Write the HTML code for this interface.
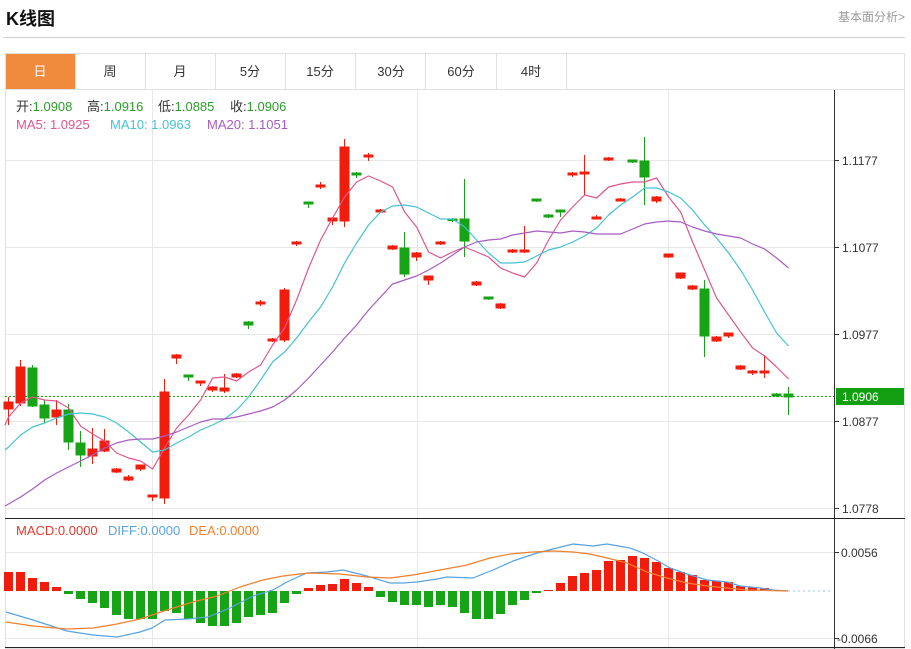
<!DOCTYPE html>
<html><head><meta charset="utf-8"><style>
html,body{margin:0;padding:0;background:#fff;}
svg{display:block;}
text{font-family:"Liberation Sans","Noto Sans CJK SC",sans-serif;}
</style></head><body>
<svg width="911" height="649" viewBox="0 0 911 649" xmlns="http://www.w3.org/2000/svg">
<rect width="911" height="649" fill="#fff"/>
<text x="6" y="25" font-size="18" font-weight="bold" fill="#111">K线图</text>
<text x="905" y="21" font-size="12" fill="#999" text-anchor="end">基本面分析&gt;</text>
<line x1="3" y1="37.5" x2="905" y2="37.5" stroke="#cfcfcf"/>
<rect x="5.5" y="53.5" width="899" height="595" fill="none" stroke="#e0e0e0"/>
<line x1="5" y1="89.5" x2="905" y2="89.5" stroke="#e0e0e0"/>
<rect x="6" y="54" width="69" height="35" fill="#f08b3e"/>
<g stroke="#e0e0e0">
<line x1="75.5" y1="54" x2="75.5" y2="89"/><line x1="145.5" y1="54" x2="145.5" y2="89"/>
<line x1="215.5" y1="54" x2="215.5" y2="89"/><line x1="285.5" y1="54" x2="285.5" y2="89"/>
<line x1="355.5" y1="54" x2="355.5" y2="89"/><line x1="425.5" y1="54" x2="425.5" y2="89"/>
<line x1="496.5" y1="54" x2="496.5" y2="89"/><line x1="566.5" y1="54" x2="566.5" y2="89"/>
</g>
<g font-size="13" text-anchor="middle" fill="#333">
<text x="40" y="76" fill="#fff">日</text><text x="110" y="76">周</text><text x="180" y="76">月</text>
<text x="250" y="76">5分</text><text x="320" y="76">15分</text><text x="391" y="76">30分</text>
<text x="461" y="76">60分</text><text x="531" y="76">4时</text>
</g>
<g stroke="#e8e8e8">
<line x1="6" y1="160.5" x2="834" y2="160.5"/><line x1="6" y1="247.5" x2="834" y2="247.5"/>
<line x1="6" y1="334.5" x2="834" y2="334.5"/><line x1="6" y1="421.5" x2="834" y2="421.5"/>
<line x1="6" y1="508.5" x2="834" y2="508.5"/>
<line x1="6" y1="552.5" x2="834" y2="552.5"/><line x1="6" y1="638.5" x2="834" y2="638.5"/>
<line x1="152.5" y1="90" x2="152.5" y2="647"/><line x1="417.5" y1="90" x2="417.5" y2="647"/>
<line x1="668.5" y1="90" x2="668.5" y2="647"/>
</g>
<line x1="834.5" y1="90" x2="834.5" y2="649" stroke="#333"/>
<line x1="5" y1="518.5" x2="905" y2="518.5" stroke="#222"/>
<line x1="5" y1="647.5" x2="905" y2="647.5" stroke="#222"/>
<g stroke="#333">
<line x1="834" y1="160.5" x2="839" y2="160.5"/><line x1="834" y1="247.5" x2="839" y2="247.5"/>
<line x1="834" y1="334.5" x2="839" y2="334.5"/><line x1="834" y1="421.5" x2="839" y2="421.5"/>
<line x1="834" y1="508.5" x2="839" y2="508.5"/><line x1="834" y1="552.5" x2="839" y2="552.5"/>
<line x1="834" y1="638.5" x2="839" y2="638.5"/>
</g>
<g font-size="12" fill="#333">
<text x="842" y="165">1.1177</text><text x="842" y="252">1.1077</text><text x="842" y="339">1.0977</text>
<text x="842" y="426">1.0877</text><text x="842" y="513">1.0778</text>
<text x="841" y="557">0.0056</text><text x="837" y="643">-0.0066</text>
</g>
<line x1="5" y1="396.5" x2="834" y2="396.5" stroke="#1a9e1a" stroke-dasharray="2,2"/>
<rect x="836" y="388" width="68" height="17" fill="#12a012"/>
<text x="842" y="401" font-size="12" fill="#fff">1.0906</text>
<g font-size="13">
<text x="16" y="111" fill="#333">开:<tspan fill="#2a9d2a">1.0908</tspan><tspan x="87">高:</tspan><tspan fill="#2a9d2a">1.0916</tspan><tspan x="158">低:</tspan><tspan fill="#2a9d2a">1.0885</tspan><tspan x="230">收:</tspan><tspan fill="#2a9d2a">1.0906</tspan></text>
<text x="16" y="129" fill="#e0558f">MA5: 1.0925</text>
<text x="110" y="129" fill="#45c3d2">MA10: 1.0963</text>
<text x="207" y="129" fill="#a75cc2">MA20: 1.1051</text>
<text x="16" y="535" fill="#e53a30">MACD:0.0000</text>
<text x="108" y="535" fill="#5aa2e0">DIFF:0.0000</text>
<text x="189" y="535" fill="#ef8030">DEA:0.0000</text>
</g>
<g stroke="#f21c0c" fill="#f21c0c" shape-rendering="crispEdges">
<line x1="8.5" y1="397" x2="8.5" y2="425"/><rect x="4" y="402" width="9" height="7"/>
<line x1="20.5" y1="360" x2="20.5" y2="406"/><rect x="16" y="367" width="9" height="36"/>
<line x1="56.5" y1="400" x2="56.5" y2="425"/><rect x="52" y="410" width="9" height="7"/>
<line x1="92.5" y1="428" x2="92.5" y2="464"/><rect x="88" y="449" width="9" height="7"/>
<line x1="104.5" y1="429" x2="104.5" y2="452"/><rect x="100" y="441" width="9" height="10"/>
<line x1="116.5" y1="468" x2="116.5" y2="473"/><rect x="112" y="469" width="9" height="3"/>
<line x1="128.5" y1="475" x2="128.5" y2="481"/><rect x="124" y="477" width="9" height="3"/>
<line x1="140.5" y1="465" x2="140.5" y2="471"/><rect x="136" y="465" width="9" height="4"/>
<line x1="152.5" y1="495" x2="152.5" y2="501"/><rect x="148" y="495" width="9" height="2"/>
<line x1="164.5" y1="379" x2="164.5" y2="504"/><rect x="160" y="392" width="9" height="106"/>
<line x1="176.5" y1="354" x2="176.5" y2="364"/><rect x="172" y="355" width="9" height="3"/>
<line x1="200.5" y1="381" x2="200.5" y2="386"/><rect x="196" y="381" width="9" height="2"/>
<line x1="212.5" y1="386" x2="212.5" y2="392"/><rect x="208" y="387" width="9" height="3"/>
<line x1="224.5" y1="374" x2="224.5" y2="393"/><rect x="220" y="388" width="9" height="3"/>
<line x1="236.5" y1="373" x2="236.5" y2="378"/><rect x="232" y="374" width="9" height="3"/>
<line x1="260.5" y1="300" x2="260.5" y2="306"/><rect x="256" y="302" width="9" height="2"/>
<line x1="272.5" y1="338" x2="272.5" y2="342"/><rect x="268" y="339" width="9" height="2"/>
<line x1="284.5" y1="288" x2="284.5" y2="342"/><rect x="280" y="290" width="9" height="50"/>
<line x1="296.5" y1="241" x2="296.5" y2="246"/><rect x="292" y="242" width="9" height="2"/>
<line x1="320.5" y1="182" x2="320.5" y2="189"/><rect x="316" y="185" width="9" height="2"/>
<line x1="332.5" y1="217" x2="332.5" y2="225"/><rect x="328" y="218" width="9" height="3"/>
<line x1="344.5" y1="139" x2="344.5" y2="227"/><rect x="340" y="147" width="9" height="74"/>
<line x1="368.5" y1="153" x2="368.5" y2="161"/><rect x="364" y="155" width="9" height="2"/>
<line x1="380.5" y1="209" x2="380.5" y2="213"/><rect x="376" y="210" width="9" height="2"/>
<line x1="392.5" y1="245" x2="392.5" y2="250"/><rect x="388" y="246" width="9" height="3"/>
<line x1="416.5" y1="252" x2="416.5" y2="261"/><rect x="412" y="253" width="9" height="4"/>
<line x1="428.5" y1="276" x2="428.5" y2="285"/><rect x="424" y="276" width="9" height="4"/>
<line x1="440.5" y1="241" x2="440.5" y2="245"/><rect x="436" y="242" width="9" height="2"/>
<line x1="476.5" y1="281" x2="476.5" y2="286"/><rect x="472" y="282" width="9" height="3"/>
<line x1="500.5" y1="303" x2="500.5" y2="309"/><rect x="496" y="304" width="9" height="4"/>
<line x1="512.5" y1="249" x2="512.5" y2="253"/><rect x="508" y="250" width="9" height="2"/>
<line x1="524.5" y1="226" x2="524.5" y2="253"/><rect x="520" y="250" width="9" height="2"/>
<line x1="572.5" y1="172" x2="572.5" y2="177"/><rect x="568" y="173" width="9" height="2"/>
<line x1="584.5" y1="155" x2="584.5" y2="195"/><rect x="580" y="172" width="9" height="2"/>
<line x1="596.5" y1="215" x2="596.5" y2="219"/><rect x="592" y="217" width="9" height="2"/>
<line x1="608.5" y1="157" x2="608.5" y2="161"/><rect x="604" y="158" width="9" height="2"/>
<line x1="620.5" y1="198" x2="620.5" y2="201"/><rect x="616" y="199" width="9" height="2"/>
<line x1="656.5" y1="196" x2="656.5" y2="203"/><rect x="652" y="197" width="9" height="4"/>
<line x1="668.5" y1="254" x2="668.5" y2="258"/><rect x="664" y="254" width="9" height="3"/>
<line x1="680.5" y1="273" x2="680.5" y2="279"/><rect x="676" y="273" width="9" height="5"/>
<line x1="692.5" y1="285" x2="692.5" y2="290"/><rect x="688" y="286" width="9" height="3"/>
<line x1="716.5" y1="336" x2="716.5" y2="342"/><rect x="712" y="337" width="9" height="4"/>
<line x1="728.5" y1="333" x2="728.5" y2="338"/><rect x="724" y="333" width="9" height="3"/>
<line x1="740.5" y1="365" x2="740.5" y2="370"/><rect x="736" y="366" width="9" height="3"/>
<line x1="752.5" y1="370" x2="752.5" y2="375"/><rect x="748" y="371" width="9" height="2"/>
<line x1="764.5" y1="355" x2="764.5" y2="378"/><rect x="760" y="371" width="9" height="2"/>
</g>
<g stroke="#16a316" fill="#16a316" shape-rendering="crispEdges">
<line x1="32.5" y1="365" x2="32.5" y2="407"/><rect x="28" y="368" width="9" height="38"/>
<line x1="44.5" y1="400" x2="44.5" y2="423"/><rect x="40" y="405" width="9" height="13"/>
<line x1="68.5" y1="404" x2="68.5" y2="450"/><rect x="64" y="410" width="9" height="32"/>
<line x1="80.5" y1="431" x2="80.5" y2="467"/><rect x="76" y="443" width="9" height="12"/>
<line x1="188.5" y1="375" x2="188.5" y2="381"/><rect x="184" y="375" width="9" height="2"/>
<line x1="248.5" y1="321" x2="248.5" y2="329"/><rect x="244" y="322" width="9" height="3"/>
<line x1="308.5" y1="202" x2="308.5" y2="208"/><rect x="304" y="202" width="9" height="2"/>
<line x1="356.5" y1="172" x2="356.5" y2="178"/><rect x="352" y="173" width="9" height="2"/>
<line x1="404.5" y1="232" x2="404.5" y2="277"/><rect x="400" y="248" width="9" height="26"/>
<line x1="452.5" y1="218" x2="452.5" y2="222"/><rect x="448" y="219" width="9" height="1.5"/>
<line x1="464.5" y1="179" x2="464.5" y2="257"/><rect x="460" y="219" width="9" height="22"/>
<line x1="488.5" y1="297" x2="488.5" y2="300"/><rect x="484" y="297" width="9" height="2"/>
<line x1="536.5" y1="199" x2="536.5" y2="202"/><rect x="532" y="199" width="9" height="2"/>
<line x1="548.5" y1="214" x2="548.5" y2="218"/><rect x="544" y="215" width="9" height="2"/>
<line x1="560.5" y1="210" x2="560.5" y2="217"/><rect x="556" y="210" width="9" height="2"/>
<line x1="632.5" y1="160" x2="632.5" y2="163"/><rect x="628" y="160" width="9" height="2"/>
<line x1="644.5" y1="137" x2="644.5" y2="205"/><rect x="640" y="161" width="9" height="16"/>
<line x1="704.5" y1="280" x2="704.5" y2="357"/><rect x="700" y="289" width="9" height="47"/>
<line x1="776.5" y1="393" x2="776.5" y2="397"/><rect x="772" y="394" width="9" height="2"/>
<line x1="788.5" y1="387" x2="788.5" y2="415"/><rect x="784" y="394" width="9" height="3"/>
</g>
<g fill="none" stroke-width="1.2" stroke-linejoin="round">
<polyline stroke="#e0558f" points="5,425 8.6,417 20.6,403 32.6,397 44.6,400 56.6,401 68.6,408 80.6,426 92.6,434 104.6,441 116.6,453 128.6,458 140.6,461 152.6,469 164.6,448 176.6,428 188.6,415 200.6,400 212.6,378 224.6,377 236.6,381 248.6,372 260.6,365 272.6,345 284.6,328 296.6,300 308.6,268 320.6,240 332.6,218 344.6,197 356.6,182 368.6,176 380.6,181 392.6,187 404.6,212 416.6,227 428.6,252 440.6,258 452.6,252 464.6,247 476.6,252 488.6,257 500.6,268 512.6,273 524.6,277 536.6,263 548.6,240 560.6,220 572.6,207 584.6,195 596.6,198 608.6,187 620.6,184 632.6,182 644.6,182 656.6,178 668.6,197 680.6,212 692.6,242 704.6,270 716.6,298 728.6,315 740.6,332 752.6,348 764.6,356 776.6,367 788.6,379"/>
<polyline stroke="#45c3d2" points="5,450 8.6,447 20.6,435 32.6,427 44.6,423 56.6,418 68.6,414 80.6,413 92.6,414 104.6,417 116.6,423 128.6,432 140.6,442 152.6,452 164.6,450 176.6,443 188.6,437 200.6,430 212.6,425 224.6,419 236.6,410 248.6,397 260.6,380 272.6,362 284.6,352 296.6,338 308.6,322 320.6,307 332.6,287 344.6,263 356.6,243 368.6,225 380.6,212 392.6,206 404.6,205 416.6,207 428.6,213 440.6,219 452.6,219 464.6,227 476.6,240 488.6,253 500.6,263 512.6,263 524.6,262 536.6,256 548.6,250 560.6,247 572.6,242 584.6,236 596.6,228 608.6,215 620.6,205 632.6,197 644.6,188 656.6,188 668.6,192 680.6,198 692.6,210 704.6,225 716.6,238 728.6,253 740.6,270 752.6,290 764.6,312 776.6,333 788.6,346"/>
<polyline stroke="#a75cc2" points="5,506 8.6,504 20.6,497 32.6,489 44.6,480 56.6,473 68.6,467 80.6,461 92.6,455 104.6,448 116.6,443 128.6,440 140.6,439 152.6,439 164.6,436 176.6,432 188.6,427 200.6,422 212.6,419 224.6,419 236.6,417 248.6,414 260.6,411 272.6,407 284.6,400 296.6,390 308.6,378 320.6,365 332.6,352 344.6,338 356.6,325 368.6,310 380.6,297 392.6,284 404.6,280 416.6,276 428.6,270 440.6,263 452.6,255 464.6,247 476.6,242 488.6,240 500.6,239 512.6,235 524.6,233 536.6,231 548.6,232 560.6,233 572.6,231 584.6,232 596.6,234 608.6,234 620.6,234 632.6,229 644.6,224 656.6,222 668.6,221 680.6,222 692.6,227 704.6,231 716.6,234 728.6,236 740.6,238 752.6,244 764.6,249 776.6,258 788.6,268"/>
</g>
<g fill="#f21c0c" shape-rendering="crispEdges">
<rect x="4" y="572" width="9" height="19"/><rect x="16" y="572" width="9" height="19"/>
<rect x="28" y="578" width="9" height="13"/><rect x="40" y="582" width="9" height="9"/>
<rect x="52" y="587" width="9" height="4"/>
<rect x="304" y="588" width="9" height="3"/><rect x="316" y="585" width="9" height="6"/>
<rect x="328" y="584" width="9" height="7"/><rect x="340" y="579" width="9" height="12"/>
<rect x="352" y="583" width="9" height="8"/><rect x="364" y="587" width="9" height="4"/>
<rect x="544" y="590" width="9" height="1"/><rect x="556" y="583" width="9" height="8"/>
<rect x="568" y="576" width="9" height="15"/><rect x="580" y="573" width="9" height="18"/>
<rect x="592" y="570" width="9" height="21"/><rect x="604" y="561" width="9" height="30"/>
<rect x="616" y="560" width="9" height="31"/><rect x="628" y="556" width="9" height="35"/>
<rect x="640" y="558" width="9" height="33"/><rect x="652" y="562" width="9" height="29"/>
<rect x="664" y="568" width="9" height="23"/><rect x="676" y="572" width="9" height="19"/>
<rect x="688" y="575" width="9" height="16"/><rect x="700" y="580" width="9" height="11"/>
<rect x="712" y="581" width="9" height="10"/><rect x="724" y="582" width="9" height="9"/>
<rect x="736" y="586" width="9" height="5"/><rect x="748" y="587" width="9" height="4"/>
<rect x="760" y="588" width="9" height="3"/><rect x="772" y="590" width="9" height="1"/>
</g>
<g fill="#16a316" shape-rendering="crispEdges">
<rect x="64" y="591" width="9" height="3"/><rect x="76" y="591" width="9" height="8"/>
<rect x="88" y="591" width="9" height="12"/><rect x="100" y="591" width="9" height="17"/>
<rect x="112" y="591" width="9" height="24"/><rect x="124" y="591" width="9" height="28"/>
<rect x="136" y="591" width="9" height="28"/><rect x="148" y="591" width="9" height="28"/>
<rect x="160" y="591" width="9" height="20"/><rect x="172" y="591" width="9" height="22"/>
<rect x="184" y="591" width="9" height="28"/><rect x="196" y="591" width="9" height="32"/>
<rect x="208" y="591" width="9" height="35"/><rect x="220" y="591" width="9" height="35"/>
<rect x="232" y="591" width="9" height="32"/><rect x="244" y="591" width="9" height="26"/>
<rect x="256" y="591" width="9" height="24"/><rect x="268" y="591" width="9" height="22"/>
<rect x="280" y="591" width="9" height="12"/><rect x="292" y="591" width="9" height="3"/>
<rect x="376" y="591" width="9" height="6"/><rect x="388" y="591" width="9" height="11"/>
<rect x="400" y="591" width="9" height="14"/><rect x="412" y="591" width="9" height="14"/>
<rect x="424" y="591" width="9" height="16"/><rect x="436" y="591" width="9" height="14"/>
<rect x="448" y="591" width="9" height="16"/><rect x="460" y="591" width="9" height="22"/>
<rect x="472" y="591" width="9" height="28"/><rect x="484" y="591" width="9" height="28"/>
<rect x="496" y="591" width="9" height="23"/><rect x="508" y="591" width="9" height="14"/>
<rect x="520" y="591" width="9" height="9"/><rect x="532" y="591" width="9" height="2"/>
</g>
<line x1="788" y1="591" x2="832" y2="591" stroke="#8ec8ee" stroke-dasharray="2,3"/>
<g fill="none" stroke-width="1.2" stroke-linejoin="round">
<polyline stroke="#5aa2e0" points="6,612 33,620 67,631 93,635 117,637 140,632 152,628 165,620 187,619 208,617 230,608 253,596 273,590 287,582 300,576 307,573 327,572 343,570 367,576 390,583 403,583 417,582 437,579 447,577 473,578 493,570 513,561 537,553 557,548 573,544 593,546 607,544 630,548 643,553 660,562 670,568 687,574 707,580 727,582 740,586 760,588 773,590 788,591"/>
<polyline stroke="#ef8030" points="6,622 33,626 67,629 93,628 117,624 140,619 167,610 193,602 217,596 240,587 263,580 283,576 300,574 310,573 340,574 367,577 390,578 413,575 440,570 467,565 490,558 510,554 533,552 553,551 573,552 590,554 607,558 627,563 647,572 667,578 687,583 707,586 727,588 747,590 767,590.5 788,591"/>
</g>
</svg>
</body></html>
